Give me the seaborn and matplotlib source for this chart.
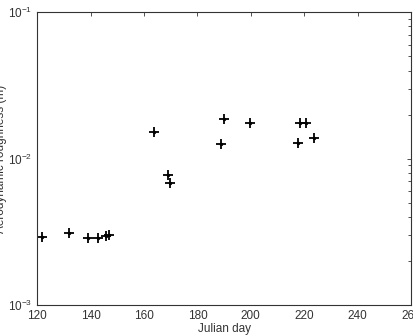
import matplotlib
matplotlib.use("Agg")
import matplotlib.pyplot as plt
import seaborn as sns
import pandas as pd
from matplotlib.ticker import LogLocator, FixedLocator, NullFormatter

julian_day = [121.9, 132.0, 139.1, 142.8, 145.7, 146.9, 163.6, 169.0, 169.9,
              188.9, 189.8, 199.8, 217.7, 218.6, 220.6, 223.7]
roughness = [0.00293, 0.00309, 0.00287, 0.00287, 0.00298, 0.00303, 0.0153, 0.00774, 0.00686,
             0.01253, 0.0186, 0.01746, 0.01274, 0.0175, 0.0175, 0.01377]
x_ticks = [120, 140, 160, 180, 200, 220, 240, 260]

sns.set_style("white")
plt.rcParams['font.family'] = ['Liberation Sans', 'DejaVu Sans']

df = pd.DataFrame({"day": julian_day, "z0": roughness})

fig = plt.figure(figsize=(4.13, 3.36), dpi=100)
ax = fig.add_axes([0.0903, 0.0923, 0.9047, 0.8711])
sns.scatterplot(data=df, x="day", y="z0", ax=ax, marker="+", s=45,
                color="black", linewidth=1.3)
sns.scatterplot(data=df, x="day", y="z0", ax=ax, marker="o", s=6,
                color="black", linewidth=0)
ax.set_yscale("log")
ax.set_xlim(120, 260)
ax.set_ylim(1e-3, 1e-1)
ax.xaxis.set_major_locator(FixedLocator(x_ticks))
ax.yaxis.set_major_locator(LogLocator(base=10, numticks=5))
ax.yaxis.set_minor_locator(LogLocator(base=10, subs=range(2, 10), numticks=20))
ax.yaxis.set_minor_formatter(NullFormatter())
ax.tick_params(axis="both", which="both", direction="in", top=True, right=True,
               labelsize=8.5, colors="#333333", length=3, width=0.6)
ax.tick_params(axis="y", which="minor", length=2)
ax.set_xlabel("Julian day", fontsize=8.5, color="#333333", labelpad=1)
ax.set_ylabel("Aerodynamic roughness (m)", fontsize=8.5, color="#333333", labelpad=1)
for s in ax.spines.values():
    s.set_color("#333333")
    s.set_linewidth(0.8)
    s.set_visible(True)
fig.savefig("out.png", dpi=100)
